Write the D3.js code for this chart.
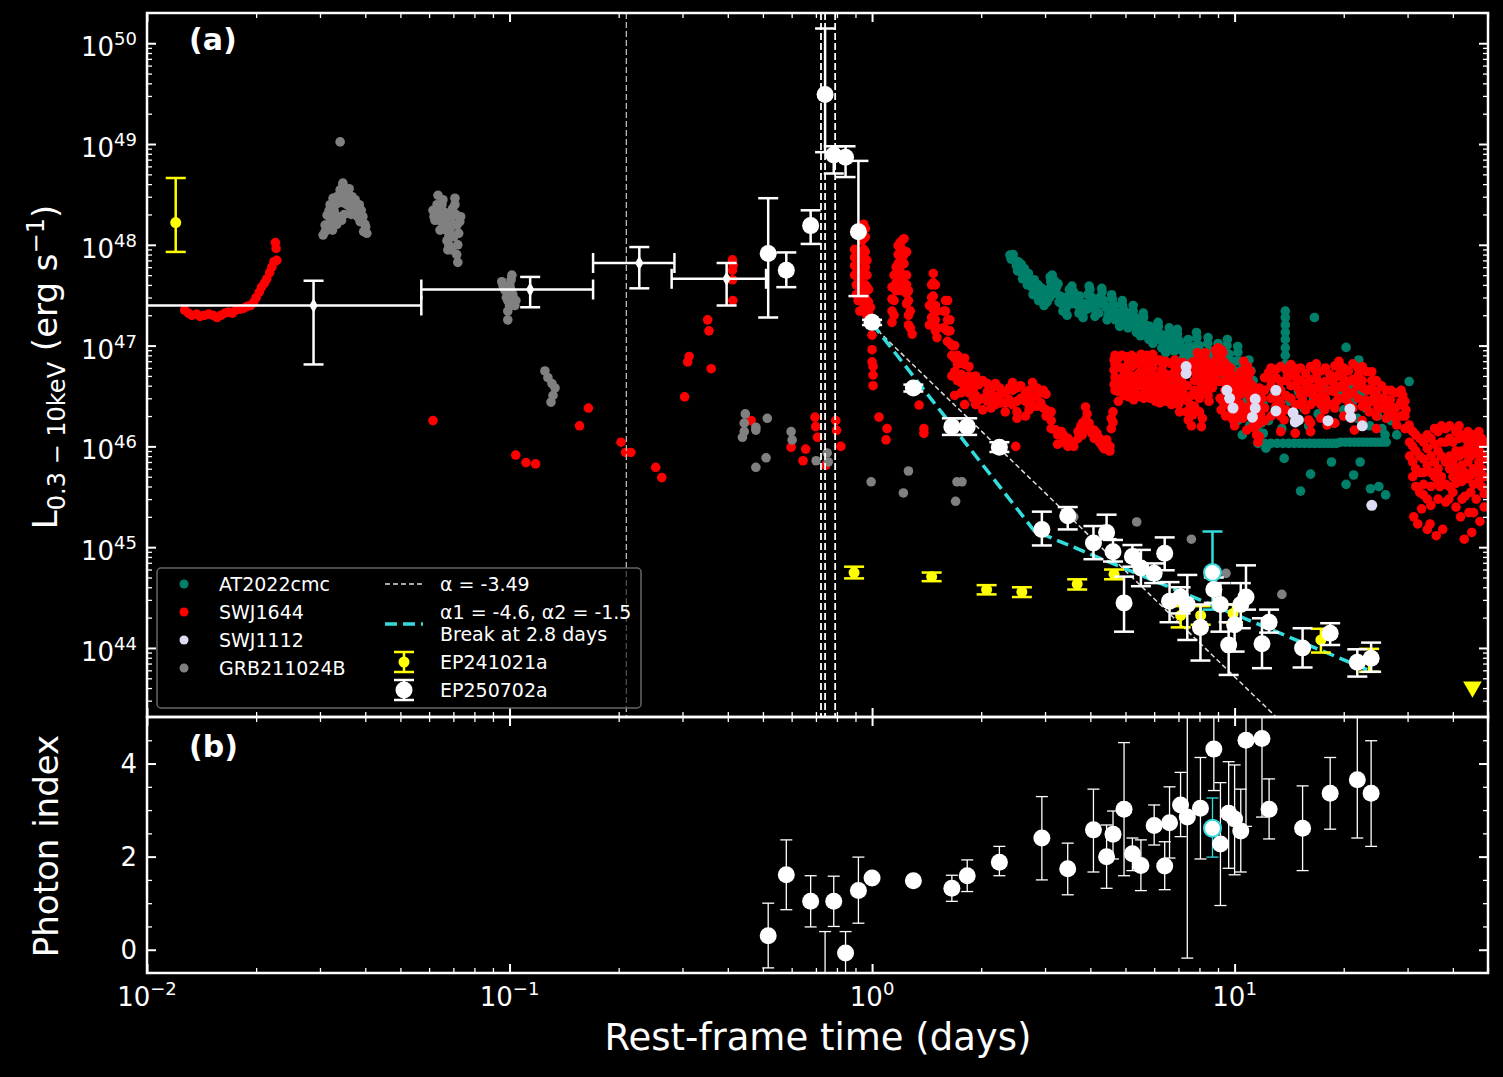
<!DOCTYPE html>
<html>
<head>
<meta charset="utf-8">
<script src="https://cdn.jsdelivr.net/npm/d3@7"></script>
<style>
  body { margin: 0; background: #000; }
  svg text { font-family: "DejaVu Sans", sans-serif; fill: #fff; }
</style>
</head>
<body>
<div id="viz"></div>
<script>
// ---- data: [rest-frame days, L (erg/s)] ----
var at2022cmc = [
  [2.40,7.9e47],[2.42,7.2e47],[2.45,8.0e47],[2.48,7.0e47],[2.50,6.2e47],[2.53,6.8e47],[2.55,5.8e47],[2.58,6.4e47],[2.60,5.2e47],[2.63,5.8e47],
  [2.66,4.7e47],[2.70,5.2e47],[2.73,4.3e47],[2.76,3.8e47],[2.80,4.5e47],[2.83,3.6e47],[2.87,4.0e47],[2.90,3.3e47],[2.94,3.7e47],[2.97,2.9e47],
  [3.00,3.3e47],[3.04,2.7e47],[3.07,3.6e47],[3.11,4.3e47],[3.14,5.0e47],[3.18,4.4e47],[3.22,3.7e47],[3.26,4.1e47],[3.30,3.1e47],[3.34,2.6e47],
  [3.38,3.0e47],[3.42,2.3e47],[3.47,2.7e47],[3.52,3.3e47],[3.56,3.9e47],[3.60,3.4e47],[3.65,2.9e47],[3.70,2.5e47],[3.74,3.1e47],[3.79,2.6e47],
  [3.84,2.2e47],[3.89,2.6e47],[3.94,3.2e47],[3.99,3.6e47],[4.04,3.0e47],[4.09,2.6e47],[4.14,2.2e47],[4.20,2.6e47],[4.25,3.0e47],[4.31,3.4e47],
  [4.36,2.8e47],[4.42,2.4e47],[4.48,2.0e47],[4.54,2.4e47],[4.60,2.9e47],[4.66,2.5e47],[4.72,2.1e47],[4.78,1.8e47],[4.85,2.1e47],[4.91,2.5e47],
  [4.98,2.2e47],[5.04,1.9e47],[5.11,1.65e47],[5.18,1.9e47],[5.25,2.2e47],[5.32,1.9e47],[5.39,1.6e47],[5.46,1.4e47],[5.53,1.65e47],[5.61,1.9e47],
  [5.68,1.6e47],[5.76,1.35e47],[5.84,1.55e47],[5.92,1.3e47],[6.00,1.15e47],[6.08,1.35e47],[6.16,1.55e47],[6.25,1.3e47],[6.33,1.1e47],[6.42,9.5e46],
  [6.50,1.15e47],[6.59,1.35e47],[6.68,1.15e47],[6.77,9.5e46],[6.87,1.1e47],[6.96,1.3e47],[7.06,1.1e47],[7.15,9.0e46],[7.25,7.8e46],[7.35,9.5e46],
  [7.45,1.15e47],[7.55,9.5e46],[7.66,8.0e46],[7.76,9.8e46],[7.87,1.2e47],[7.98,1.0e47],[8.09,8.3e46],[8.20,7.0e46],[8.31,8.5e46],[8.43,1.05e47],
  [8.54,8.8e46],[8.66,7.3e46],[8.78,6.2e46],[8.90,7.6e46],[9.02,9.2e46],[9.15,7.8e46],[9.27,6.5e46],[9.40,8.0e46],[9.53,1.0e47],[9.66,8.2e46],
  [9.80,6.8e46],[9.93,5.7e46],[10.07,7.0e46],[10.21,8.6e46],[10.35,7.0e46],[10.5,5.8e46],[10.65,4.8e46],[10.8,6.0e46],[10.95,7.2e46],[11.1,5.6e46],
  [11.25,4.5e46],[11.4,3.6e46],[11.55,2.8e46],[11.7,2.2e46],[11.85,1.7e46],[12.0,1.35e46],
  [2.52,5.5e47],[2.6,4.6e47],[2.68,4.0e47],[2.78,3.2e47],[2.88,2.8e47],[2.98,2.5e47],[3.09,3.0e47],[3.15,3.8e47],[3.2,3.3e47],[3.28,2.7e47],
  [3.36,2.2e47],[3.45,2.0e47],[3.55,2.6e47],[3.63,2.9e47],[3.72,2.1e47],[3.82,1.9e47],[3.92,2.3e47],[4.02,2.6e47],[4.12,1.95e47],[4.22,2.1e47],
  [4.33,2.6e47],[4.45,1.8e47],[4.57,2.0e47],[4.69,1.8e47],[4.82,1.55e47],[4.95,1.8e47],[5.08,1.5e47],[5.22,1.6e47],[5.36,1.35e47],[5.5,1.25e47],
  [5.64,1.4e47],[5.8,1.15e47],[5.95,1.05e47],[6.12,1.15e47],[6.3,9.5e46],[6.46,8.5e46],[6.64,1.0e47],[6.82,8.8e46],[7.0,9.5e46],[7.2,7.2e46],
  [7.4,8.0e46],[7.6,7.2e46],[7.8,8.2e46],[8.0,7.0e46],[8.25,6.0e46],[8.5,7.2e46],[8.75,5.5e46],[9.0,6.2e46],[9.25,5.4e46],[9.5,6.5e46],
  [9.75,5.2e46],[10.0,4.6e46],[10.3,5.6e46],[10.6,4.0e46],[10.9,4.6e46],[11.2,3.6e46],[11.5,3.0e46],
  [3.1,4.8e47],[3.5,3.6e47],[3.97,3.9e47],[4.3,3.7e47],[4.58,3.2e47],[4.9,2.8e47],[5.25,2.5e47],[5.6,2.1e47],[6.15,1.7e47],[6.6,1.5e47],
  [6.95,1.45e47],[7.85,1.35e47],[8.45,1.2e47],[9.0,1.05e47],[9.55,1.15e47],[10.2,9.8e46],
  [9.6,3.5e46],[9.9,2.5e46],[10.2,1.8e46],[10.5,1.3e46],[10.8,2.8e46],[11.0,1.6e46],[11.3,2.2e46],[11.6,1.4e46],[12.0,2.6e46],[12.4,1.8e46],
  [12.8,3.2e46],[13.2,2.2e46],[13.5,1.5e46],[14.2,2.8e46],[14.6,1.9e46],[15.0,3.5e46],[15.5,2.4e46],[16.0,1.6e46],[16.5,3.0e46],[17.0,2.1e46],
  [17.6,3.8e46],[18.2,2.6e46],[18.8,1.7e46],[19.4,3.2e46],[20.0,2.3e46],[20.6,4.0e46],[21.2,2.8e46],[21.8,1.9e46],[22.4,3.4e46],[23.0,2.4e46],
  [23.6,1.6e46],[24.2,2.9e46],[24.8,2.0e46],[25.5,1.5e46],[26.0,1.3e46],[27.0,1.8e46],[28.0,1.3e46],
  [11.6,1.07e46],[12.1,1.07e46],[12.6,1.07e46],[13.1,1.07e46],[13.6,1.07e46],[14.1,1.07e46],[14.6,1.07e46],[15.1,1.07e46],[15.6,1.07e46],[16.1,1.07e46],
  [16.6,1.07e46],[17.1,1.07e46],[17.6,1.07e46],[18.1,1.07e46],[18.6,1.07e46],[19.1,1.07e46],[19.6,1.1e46],[20.2,1.1e46],[20.8,1.1e46],[21.4,1.1e46],
  [22.0,1.1e46],[22.6,1.1e46],[23.2,1.1e46],[23.8,1.1e46],[24.4,1.1e46],[25.0,1.1e46],[25.6,1.1e46],[26.2,1.1e46],
  [13.8,2.2e47],[13.8,1.9e47],[13.8,1.6e47],[13.8,1.35e47],[13.8,1.15e47],[13.8,9.5e46],[13.8,8.0e46],[13.8,6.5e46],
  [16.6,1.9e47],[20.3,9.6e46],[22.0,7.2e46],[30.3,4.4e46],[5.27,7.6e46],[7.1,3.6e46],
  [12.2,9.6e45],[13.7,7.6e45],[16.2,5.3e45],[18.5,7.0e45],[15.2,3.6e45],[20.3,4.2e45],[21.3,5.2e45],[22.2,7.0e45],[23.7,3.8e45],[25.0,4.0e45],[26.1,3.3e45]
];

var swj1644 = [
  [0.0127,2.25e47],[0.0130,2.1e47],[0.0133,2.0e47],[0.0137,2.05e47],[0.0140,1.95e47],[0.0144,2.0e47],[0.0148,2.05e47],[0.0152,2.0e47],[0.0156,1.9e47],[0.0160,2.0e47],
  [0.0164,2.1e47],[0.0168,2.15e47],[0.0172,2.1e47],[0.0176,2.25e47],[0.0181,2.3e47],[0.0185,2.35e47],[0.0189,2.45e47],[0.0193,2.5e47],[0.0197,2.7e47],[0.0200,3.0e47],
  [0.0204,3.4e47],[0.0207,3.8e47],[0.0211,4.2e47],[0.0214,4.6e47],[0.0218,5.3e47],[0.0221,6.0e47],[0.0224,6.8e47],[0.0228,7.0e47],[0.0227,9.2e47],[0.0226,1.05e48],
  [0.0615,1.8e46],[0.104,8.2e45],[0.111,6.9e45],[0.118,6.7e45],[0.156,1.6e46],[0.165,2.4e46],[0.203,1.1e46],[0.209,8.7e45],[0.216,8.7e45],[0.253,6.2e45],
  [0.263,4.9e45],[0.304,3.1e46],[0.31,6.9e46],[0.313,7.8e46],[0.352,1.8e47],[0.355,1.4e47],[0.36,5.9e46],[0.412,7.1e47],[0.412,5.6e47],[0.412,4.5e47],
  [0.413,2.8e47],[0.414,6.3e47],[0.464,1.8e46],[0.598,9.8e45],[0.645,7.2e45],[0.656,9.4e45],[0.696,1.95e46],[0.699,1.57e46],[0.707,1.23e46],[0.745,6.5e45],
  [0.794,1.8e46],[0.798,1.44e46],[0.82,1.0e46],
  [1.0,1.27e47],[1.0,9.1e46],[1.0,6.9e46],[1.006,5.1e46],[1.006,4.0e46],[1.006,6.2e46],[1.045,1.95e46],[1.10,1.5e46],[1.093,1.16e46],
  [1.348,2.57e46],[1.39,1.5e46],[1.39,1.35e46],[2.49,1.0e46],[4.62,2.2e46],[4.62,1.74e46],[8.1,1.57e46]
];

// denser parts of SWJ1644 read column by column: [t, [L values at that t]]
var swj1644Cols = [
  [0.895,[9.0e47,7.5e47,6.2e47,5.0e47]],[0.905,[8.0e47,6.5e47,5.2e47,4.0e47,3.2e47]],[0.915,[5.5e47,4.2e47,2.8e47]],[0.925,[4.5e47,3.5e47,2.2e47]],
  [0.938,[1.5e48,1.1e48,8.0e47,5.5e47,4.0e47,3.0e47]],[0.948,[1.6e48,1.15e48,9.0e47,7.0e47,5.0e47,3.6e47,2.6e47]],
  [0.958,[1.45e48,1.2e48,8.5e47,6.0e47,4.0e47,3.0e47,2.2e47]],[0.968,[7.0e47,5.0e47,3.8e47,2.8e47,2.0e47]],[0.978,[3.6e47,2.7e47,2.1e47]],
  [0.99,[2.4e47,1.9e47]],
  [1.135,[3.8e47,2.9e47,2.2e47,1.7e47]],[1.15,[5.0e47,2.8e47,2.0e47]],[1.165,[6.0e47,4.2e47,3.5e47]],[1.18,[9.8e47,8.0e47,6.5e47,5.5e47,4.5e47]],
  [1.195,[1.05e48,8.5e47,6.0e47,4.8e47]],[1.21,[1.1e48,9.0e47,7.5e47,4.5e47,3.5e47]],[1.225,[1.15e48,8.0e47,6.5e47,5.0e47,3.8e47]],
  [1.245,[8.5e47,5.0e47,4.0e47,3.3e47,2.6e47]],[1.26,[3.5e47,2.8e47,2.0e47,1.6e47]],[1.275,[2.2e47,1.5e47]],[1.29,[1.3e47]],
  [1.44,[2.5e47,1.6e47]],[1.46,[4.0e47,3.0e47,1.9e47]],[1.475,[5.2e47,4.2e47,3.1e47,2.3e47,1.8e47]],[1.495,[4.0e47,2.5e47,1.8e47,1.4e47]],
  [1.51,[2.2e47,1.5e47,1.2e47]],
  [1.575,[2.2e47,1.5e47]],[1.595,[2.8e47,2.2e47,1.45e47]],[1.615,[2.8e47,1.8e47,1.4e47,1.1e47]],[1.64,[1.8e47,1.4e47,1.05e47]],
  [1.66,[1.0e47,8.0e46,5.0e46]],[1.69,[1.0e47,7.5e46,5.5e46,3.2e46]],[1.72,[8.0e46,6.5e46,4.5e46]],[1.76,[7.5e46,5.2e46,4.3e46,3.4e46]],
  [1.80,[7.5e46,6.5e46,4.6e46,3.8e46,2.6e46]],[1.85,[6.2e46,5.0e46,4.2e46,3.4e46]],[1.90,[4.4e46,3.6e46,3.0e46]],[1.93,[5.0e46,3.2e46,2.6e46]],
  [1.97,[4.1e46,2.9e46]],[2.02,[4.5e46,3.0e46,2.3e46]],[2.08,[4.2e46,3.5e46,2.8e46]],[2.13,[3.6e46,3.0e46,2.4e46]],[2.19,[4.2e46,3.1e46,2.6e46]],
  [2.25,[3.8e46,3.2e46,2.7e46]],[2.33,[3.4e46,2.7e46,2.2e46]],[2.39,[3.8e46,2.9e46]],[2.44,[4.3e46,3.6e46,2.6e46]],[2.51,[3.8e46,2.8e46,2.2e46,1.9e46]],
  [2.57,[4.0e46,3.0e46]],[2.65,[3.4e46,2.8e46,2.0e46]],[2.71,[3.6e46,2.6e46,2.3e46]],[2.77,[4.3e46,3.0e46,2.5e46]],[2.85,[3.8e46,3.2e46,2.5e46]],
  [2.92,[3.4e46,2.7e46]],[2.97,[3.6e46,2.4e46]],[3.02,[3.3e46,2.3e46,2.0e46]],[3.12,[2.2e46,1.8e46,1.5e46]],
  [3.21,[1.46e46]],[3.25,[1.3e46,1.05e46]],[3.33,[1.4e46]],[3.37,[1.3e46,1.1e46]],[3.47,[1.2e46,1.0e46]],[3.54,[1.03e46]],[3.6,[1.1e46,1.0e46]],
  [3.7,[1.2e46,1.4e46]],[3.76,[1.56e46]],[3.8,[1.7e46,1.3e46]],[3.88,[2.46e46,1.83e46]],[3.92,[2.1e46,1.5e46]],[3.97,[1.7e46]],[4.04,[1.35e46]],
  [4.1,[1.45e46,1.2e46]],[4.17,[1.35e46]],[4.24,[1.2e46,1.1e46]],[4.30,[1.03e46]],[4.36,[1.05e46,9.5e45]],[4.44,[1.16e46,9.8e45]],
  [4.49,[9.2e45]],[4.53,[9.0e45,1.0e46]],[4.57,[1.9e46,1.5e46]],
  [4.65,[7.2e46,5.7e46,4.1e46]],[4.68,[8.0e46,6.5e46,4.8e46,3.6e46]],[4.78,[7.5e46,6.2e46,4.4e46,3.5e46,2.8e46]],[4.88,[8.0e46,6.0e46,4.6e46,3.8e46]],
  [4.95,[5.1e46,3.2e46]],[5.0,[7.8e46,5.8e46,4.1e46,3.3e46]],[5.07,[6.4e46,4.5e46]],[5.1,[7.2e46,5.2e46,3.9e46,3.1e46]],
  [5.2,[8.0e46,6.2e46,4.8e46,3.2e46]],[5.27,[3.6e46,2.9e46]],[5.33,[7.0e46,5.0e46,4.0e46,3.4e46]],[5.43,[6.6e46,4.6e46,3.2e46]],
  [5.47,[7.5e46,5.4e46]],[5.52,[8.2e46,5.2e46,4.0e46,3.1e46]],[5.62,[7.0e46,5.4e46,4.3e46,3.0e46]],[5.67,[4.8e46,3.5e46]],
  [5.72,[8.0e46,6.0e46,4.2e46]],[5.81,[4.5e46]],[5.85,[7.5e46,5.6e46,4.0e46,3.0e46]],[5.92,[6.9e46]],[5.95,[8.2e46,6.0e46,4.6e46,3.6e46]],
  [6.05,[7.0e46,5.0e46,3.6e46,2.8e46]],[6.1,[4.0e46]],[6.18,[3.2e46]],[6.22,[7.2e46,5.0e46,4.1e46,2.7e46]],[6.30,[5.7e46]],
  [6.35,[6.5e46,4.0e46,3.4e46]],[6.38,[4.5e46]],[6.45,[7.0e46,5.2e46,4.0e46,2.8e46]],[6.5,[3.6e46]],[6.59,[3.0e46]],[6.66,[5.1e46]],
  [6.7,[6.6e46,4.4e46,3.6e46,2.6e46]],[6.79,[4.0e46]],[6.85,[7.2e46,5.6e46,4.4e46,2.8e46]],[6.9,[3.2e46]],[6.95,[6.0e46,4.8e46,3.6e46]],
  [7.0,[2.6e46]],[7.05,[6.3e46,4.4e46,3.0e46,2.2e46]],[7.1,[3.6e46]],[7.2,[6.8e46,5.0e46,4.2e46,3.4e46]],[7.3,[2.9e46]],
  [7.37,[2.2e46]],[7.4,[5.8e46,4.0e46,3.0e46]],[7.45,[1.83e46]],[7.53,[2.6e46]],[7.6,[3.2e46,2.4e46,1.6e46]],[7.67,[6.9e46,2.05e46]],
  [7.75,[6.4e46,4.5e46,3.6e46,2.5e46]],[7.8,[5.4e46]],[7.9,[8.5e46,6.2e46,4.6e46,3.5e46]],[7.97,[7.5e46]],[8.0,[6.5e46,5.0e46,3.0e46,2.2e46]],
  [8.1,[4.0e46]],[8.15,[8.0e46,6.6e46,4.8e46,3.4e46,1.9e46]],[8.2,[5.7e46]],[8.3,[8.5e46,6.0e46,4.4e46,3.6e46]],[8.35,[7.2e46]],
  [8.45,[3.2e46]],[8.5,[6.5e46,5.2e46,3.8e46,2.8e46]],[8.6,[4.5e46]],[8.68,[6.5e46,4.8e46,3.8e46]],[8.77,[5.4e46]],
  [8.85,[9.0e46,7.0e46,5.8e46,4.6e46]],[8.95,[8.1e46]],[9.0,[9.5e46,7.5e46,5.5e46,4.4e46]],[9.06,[6.4e46]],[9.12,[8.0e46,5.5e46,3.0e46]],
  [9.18,[9.1e46,2.3e46]],[9.28,[8.5e46,5.8e46,4.4e46,2.8e46]],[9.34,[6.9e46]],[9.4,[3.6e46]],[9.45,[5.8e46,4.2e46,2.8e46,2.0e46]],
  [9.52,[6.4e46,4.8e46]],[9.6,[5.5e46,4.0e46,2.6e46]],[9.69,[3.2e46]],[9.75,[6.0e46,4.4e46,2.6e46,2.0e46]],[9.8,[5.1e46,2.3e46]],
  [9.9,[1.83e46]],[9.95,[5.0e46,3.5e46,2.8e46,2.2e46]],[10.0,[4.0e46,1.6e46]],[10.15,[4.5e46,3.6e46,2.4e46,1.9e46]],[10.3,[3.2e46]],
  [10.4,[5.5e46,4.0e46,2.6e46,2.1e46]],[10.5,[4.5e46]],[10.55,[1.9e46]],[10.6,[7.0e46,5.2e46,3.4e46,2.4e46]],[10.7,[6.0e46]],
  [10.8,[1.45e46]],[10.85,[6.2e46,4.0e46,2.2e46]],[10.9,[4.8e46]],[11.0,[3.5e46]],[11.05,[5.5e46,4.2e46,3.0e46,2.0e46]],
  [11.1,[2.6e46]],[11.2,[4.0e46,3.2e46,2.3e46,1.55e46]],[11.3,[1.83e46]],[11.45,[3.4e46,2.4e46,1.6e46]],[11.5,[1.3e46]],[11.6,[1.1e46]],
  [11.7,[3.8e46,2.8e46,1.7e46,1.25e46]],[11.8,[2.05e46]],[11.9,[3.0e46]],[12.1,[4.8e46,3.6e46,2.4e46,1.8e46]],
  [12.4,[5.4e46]],[12.6,[6.0e46,4.5e46,4.0e46,3.0e46,2.0e46]],[12.9,[3.6e46]],
  [13.0,[5.8e46,4.8e46,3.4e46,2.5e46]],[13.2,[2.9e46]],[13.4,[6.2e46,4.4e46,3.6e46,2.7e46,2.0e46,1.4e46]],
  [13.5,[2.3e46]],[13.7,[1.83e46]],[13.85,[5.8e46,4.5e46,3.2e46,2.3e46]],[14.0,[5.1e46]],
  [14.3,[6.5e46,5.0e46,4.0e46,3.0e46]],[14.6,[6.0e46]],[14.7,[5.5e46,4.0e46,2.6e46,1.9e46,1.35e46]],[14.8,[4.8e46]],
  [15.1,[3.6e46]],[15.2,[6.0e46,4.5e46,3.2e46,2.6e46]],[15.4,[2.9e46]],[15.7,[5.3e46,4.2e46,3.4e46,2.3e46]],
  [16.0,[1.83e46]],[16.2,[6.2e46,4.6e46,3.8e46,2.6e46,1.7e46,1.4e46]],[16.5,[3.2e46]],[16.7,[5.7e46]],
  [16.8,[6.6e46,4.8e46,3.8e46,2.8e46]],[17.1,[4.3e46]],[17.3,[5.6e46,3.8e46,2.6e46,1.9e46]],[17.4,[3.2e46]],
  [17.7,[2.3e46]],[17.8,[6.0e46,4.4e46,3.0e46]],[18.0,[1.63e46]],[18.3,[5.2e46,3.6e46,2.6e46]],
  [18.4,[4.5e46]],[18.8,[3.5e46]],[18.9,[6.3e46,4.8e46,4.0e46,2.4e46,1.7e46]],[19.1,[2.8e46]],
  [19.4,[7.0e46,5.2e46,3.9e46,3.0e46]],[19.5,[6.4e46]],[19.9,[4.8e46]],[20.0,[6.0e46,4.2e46,3.0e46,2.0e46]],
  [20.3,[3.6e46]],[20.6,[5.6e46,4.4e46,3.2e46]],[20.7,[2.6e46]],[21.0,[1.9e46]],[21.2,[6.6e46,4.6e46,3.4e46,2.4e46]],
  [21.4,[1.45e46]],[21.8,[4.0e46]],[21.9,[6.0e46,5.0e46,3.0e46]],[22.1,[5.4e46]],[22.5,[6.2e46,4.5e46,2.5e46,1.8e46]],
  [22.6,[3.8e46]],[23.0,[2.9e46]],[23.2,[5.5e46,3.6e46,2.6e46]],[23.5,[2.2e46]],[23.9,[5.5e46,4.5e46,3.8e46,2.8e46]],
  [24.3,[3.2e46]],[24.6,[4.5e46,3.5e46,2.8e46,2.0e46,1.5e46]],[24.8,[2.4e46]],[25.4,[4.0e46,3.0e46,2.4e46]],
  [25.8,[3.0e46]],[26.2,[3.6e46,2.6e46,1.9e46]],[26.3,[2.3e46]],[26.9,[2.9e46]],[27.0,[3.6e46,2.5e46]],[27.4,[2.05e46]],
  [27.8,[3.4e46,2.4e46,1.9e46]],[28.0,[1.63e46]],[28.6,[2.6e46]],[28.8,[3.6e46,2.8e46,2.0e46]],[29.1,[3.2e46]],
  [29.5,[2.8e46,2.0e46,1.5e46]],[29.7,[2.3e46]],[30.3,[1.63e46]],
  [30.4,[1.5e46,1.1e46,8.0e45]],[31.0,[1.4e46,1.0e46,7.0e45,5.0e45]],[31.2,[2.0e45]],[31.6,[1.3e46,9.0e45,6.0e45,4.0e45]],
  [32.0,[1.7e45]],[32.4,[1.2e46,8.0e45,5.5e45,3.5e45]],[32.8,[2.4e45]],[33.2,[1.1e46,7.5e45,5.5e45,4.2e45,3.3e45]],
  [34.0,[1.3e46,9.5e45,6.5e45,3.0e45,1.5e45]],[34.6,[1.7e45]],[34.8,[1.2e46,8.0e45,5.5e45,4.0e45,2.6e45]],
  [35.6,[1.5e46,1.05e46,7.0e45,5.0e45]],[36.0,[1.3e45]],[36.4,[1.4e46,9.0e45,6.0e45,4.5e45,3.0e45]],[36.8,[4.0e45]],
  [37.2,[1.6e46,1.1e46,8.0e45,5.0e45]],[37.5,[1.5e45]],[38.2,[1.5e46,1.1e46,7.0e45,4.2e45,2.8e45]],[39.0,[3.0e45]],
  [39.2,[1.6e46,1.2e46,8.0e45,6.0e45,4.0e45]],[40.0,[1.1e46,7.0e45,5.0e45,3.5e45]],[40.8,[1.4e46,9.0e45,6.0e45,4.3e45,2.5e45]],
  [41.6,[1.6e46,1.2e46,8.0e45,5.2e45]],[42.0,[2.0e45]],[42.4,[1.3e46,9.0e45,6.5e45,4.5e45,3.0e45]],[43.0,[1.2e45]],
  [43.2,[1.2e46,8.5e45,5.5e45,3.2e45]],[44.0,[1.4e46,1.0e46,7.0e45,4.8e45]],[44.3,[2.2e45]],[44.8,[1.1e46,8.0e45,5.2e45,3.5e45]],
  [45.1,[1.4e45]],[45.6,[1.3e46,9.5e45,6.0e45,4.2e45,2.2e45]],[46.4,[1.2e46,8.5e45,5.5e45,3.0e45]],[47.2,[1.4e46,1.0e46,7.0e45,4.6e45]],
  [47.5,[1.8e45]],[48.0,[1.2e46,8.5e45,6.0e45,4.0e45]],[48.8,[1.1e46,7.5e45,5.0e45,3.4e45,2.5e45]]
];

var swj1112 = [
  [7.35,6.2e46],[7.35,5.3e46],[9.52,3.6e46],[9.69,3.0e46],[9.9,2.4e46],[11.4,2.95e46],[11.4,2.4e46],[11.2,1.95e46],[13.0,3.6e46],
  [13.0,2.25e46],[14.5,2.15e46],[14.7,1.75e46],[15.0,1.83e46],[18.1,1.8e46],[20.8,2.35e46],[20.9,1.95e46],[22.5,1.6e46],[23.9,2.6e45]
];

var grb211024b = [
  [0.0306,1.25e48],[0.0310,1.57e48],[0.0314,1.97e48],[0.0320,2.5e48],[0.0326,2.9e48],[0.0330,2.5e48],[0.0334,3.0e48],[0.0341,3.5e48],[0.0347,3.9e48],[0.0352,3.5e48],
  [0.0356,3.2e48],[0.0361,3.6e48],[0.0368,3.0e48],[0.0375,2.8e48],[0.0379,2.5e48],[0.0387,2.1e48],[0.0392,1.85e48],[0.0399,1.6e48],[0.0404,1.3e48],[0.0320,1.7e48],
  [0.0330,2.0e48],[0.0341,2.8e48],[0.0352,2.8e48],[0.0356,2.5e48],[0.0368,2.2e48],[0.0387,1.7e48],[0.0347,4.1e48],[0.0341,1.05e49],[0.0334,1.6e48],[0.0344,1.75e48],
  [0.0350,2.0e48],[0.0310,1.35e48],[0.0396,1.35e48],[0.0362,2.4e48],[0.0372,2.6e48],[0.0383,2.3e48],
  [0.0314,1.5e48],[0.0318,2.2e48],[0.0323,1.9e48],[0.0328,2.2e48],[0.0338,2.6e48],[0.0345,3.1e48],[0.0349,2.6e48],[0.0354,3.0e48],[0.0359,2.8e48],[0.0364,2.9e48],
  [0.0366,2.0e48],[0.0370,2.4e48],[0.0377,2.2e48],[0.0381,1.9e48],[0.0385,2.5e48],[0.0390,2.2e48],[0.0394,1.9e48],[0.0401,1.5e48],[0.0325,1.4e48],[0.0336,1.9e48],
  [0.0615,2.2e48],[0.0623,1.75e48],[0.0631,2.5e48],[0.0643,1.97e48],[0.0655,2.8e48],[0.0663,1.57e48],[0.0672,1.1e48],[0.0685,1.4e48],[0.0693,1.97e48],[0.0707,2.5e48],
  [0.0716,1.57e48],[0.0729,1.7e48],[0.0720,1.0e48],[0.0676,8.9e47],[0.0693,8.9e47],[0.0720,6.7e47],[0.0643,1.4e48],[0.0663,2.1e48],[0.0635,3.1e48],[0.0707,2.9e48],
  [0.0619,1.9e48],[0.0627,2.2e48],[0.0639,2.3e48],[0.0647,1.7e48],[0.0651,2.5e48],[0.0659,1.9e48],[0.0668,1.4e48],[0.0680,1.2e48],[0.0689,1.7e48],[0.0697,2.3e48],
  [0.0711,2.0e48],[0.0724,1.3e48],[0.0733,1.9e48],[0.0680,1.0e48],[0.0702,1.2e48],[0.0715,8.0e47],
  [0.0952,4.3e47],[0.0971,3.55e47],[0.0989,2.8e47],[0.1002,4.0e47],[0.1021,3.2e47],[0.1041,2.8e47],[0.1015,5.0e47],[0.1034,2.5e47],[0.0989,2.2e47],[0.0989,1.8e47],
  [0.0960,3.9e47],[0.0995,3.3e47],[0.1008,3.6e47],[0.1027,2.9e47],[0.1010,4.5e47],[0.0980,3.0e47],[0.1000,2.5e47],
  [0.1252,5.6e46],[0.1276,4.8e46],[0.1309,4.2e46],[0.1335,3.8e46],[0.1318,3.2e46],[0.1301,2.75e46],
  [0.447,2.1e46],[0.444,1.7e46],[0.439,1.23e46],[0.444,1.4e46],[0.478,1.55e46],[0.478,1.45e46],[0.514,1.9e46],[0.51,7.7e45],[0.478,6.2e45],[0.598,1.4e46],
  [0.602,1.16e46],[0.701,7.2e45],[0.752,8.6e45],[0.757,7.0e45],[0.994,4.45e45],[1.26,5.7e45],[1.22,3.45e45],[1.715,4.45e45],[1.77,4.45e45],[1.70,2.85e45],
  [3.6,2.0e45],[5.37,1.78e45],[7.6,1.2e45],[9.47,5.5e44],[13.5,3.4e44]
];

// EP241021a: [t, L, L_low, L_high]
var ep241021a = [
  [0.0120,1.66e48,8.5e47,4.6e48],[0.892,5.6e44,4.9e44,6.4e44],[1.46,5.1e44,4.6e44,5.6e44],[2.07,3.8e44,3.4e44,4.2e44],
  [2.59,3.6e44,3.2e44,4.0e44],[3.68,4.3e44,3.8e44,4.8e44],[4.65,5.4e44,4.8e44,6.0e44],[7.10,2.1e44,1.6e44,2.6e44],
  [8.06,2.1e44,1.7e44,2.6e44],[9.9,2.2e44,1.8e44,2.7e44],[17.3,1.2e44,9.0e43,1.55e44],[23.5,7.6e43,5.8e43,9.8e43]
];
var ep241021aLimit = [[45.3,4.1e43]];

// EP250702a early binned points: [t, L, t_low, t_high, L_low, L_high]
var epEarly = [
  [0.0288,2.5e47,0.0075,0.0571,6.5e46,4.4e47],
  [0.114,3.6e47,0.0571,0.170,2.4e47,4.8e47],
  [0.228,6.6e47,0.170,0.285,3.7e47,9.5e47],
  [0.397,4.6e47,0.280,0.510,2.5e47,6.6e47]
];

// EP250702a main epochs
var epTime    = [0.517,0.58,0.677,0.742,0.784,0.845,0.917,1.0,1.30,1.66,1.83,2.245,2.94,3.465,4.08,4.435,4.62,4.955,5.225,5.515,6.0,6.415,6.615,7.095,7.405,8.05,8.69,8.765,9.14,9.63,10.0,10.4,10.75,11.9,12.45,15.4,18.35,21.8,23.8];
var epLum     = [8.2e47,5.6e47,1.55e48,3.1e49,7.8e48,7.4e48,1.35e48,1.7e47,3.8e46,1.57e46,1.57e46,9.8e45,1.5e45,2.05e45,1.1e45,1.4e45,9.0e44,2.8e44,8.1e44,6.2e44,5.5e44,8.7e44,2.9e44,3.2e44,2.7e44,1.6e44,5.6e44,3.8e44,2.7e44,1.07e44,1.7e44,2.7e44,3.2e44,1.1e44,1.8e44,1.0e44,1.4e44,7.2e43,7.9e43];
var epLumLo   = [1.9e47,3.8e47,1.02e48,8.3e48,5.1e48,4.7e48,3.1e47,1.6e47,3.5e46,1.3e46,1.3e46,8.8e45,1.04e45,1.5e45,7.6e44,1.2e45,7.2e44,1.45e44,6.4e44,4.1e44,4.4e44,5.9e44,1.8e44,2.2e44,1.2e44,7.5e43,2.4e44,2.8e44,1.45e44,5.4e43,9.2e43,1.57e44,2.4e44,6.3e43,1.42e44,6.4e43,1.07e44,5.2e43,5.8e43];
var epLumHi   = [2.9e48,8.4e47,2.2e48,1.4e50,9.5e48,9.5e48,6.8e48,1.8e47,4.1e46,1.9e46,1.9e46,1.1e46,2.25e45,2.5e45,1.62e45,2.1e45,1.18e45,5.1e44,1.05e45,9.4e44,6.9e44,1.25e45,4.5e44,4.0e44,5.3e44,2.7e44,1.43e45,5.0e44,4.4e44,1.8e44,2.7e44,4.4e44,6.6e44,1.97e44,2.4e44,1.57e44,1.76e44,9.7e43,1.13e44];
var epIndex   = [0.30,1.61,1.04,-0.75,1.04,-0.07,1.27,1.54,1.48,1.32,1.59,1.88,2.40,1.74,2.575,2.0,2.48,3.02,2.06,1.81,2.67,1.80,2.73,3.11,2.85,3.04,2.61,4.31,2.27,2.93,2.81,2.55,4.5,4.54,3.02,2.61,3.36,3.65,3.36];
var epIndexLo = [-0.39,0.86,0.49,-1.5,0.5,-0.6,0.57,1.47,1.42,1.04,1.25,1.59,1.50,1.18,1.67,1.32,1.95,1.59,1.70,1.27,2.25,1.29,1.97,2.43,-0.18,1.95,1.99,3.42,0.95,1.75,1.61,1.67,2.65,2.85,2.38,1.70,2.59,2.40,2.22];
var epIndexHi = [1.0,2.36,1.59,0.39,1.58,0.39,1.99,1.61,1.54,1.6,1.93,2.22,3.29,2.29,3.45,2.68,2.98,4.45,2.40,2.36,3.11,2.32,3.50,3.81,5.5,4.13,3.26,5.5,3.59,4.04,3.97,3.45,5.5,5.5,3.67,3.52,4.13,5.5,4.49];
var epHighlight = [26];

// power-law fits
var fitSingle = { t0: 1, L0: 1.6e47, alpha: -3.49, tEnd: 15 };
var fitBroken = { t0: 1, L0: 1.66e47, a1: -4.6, a2: -1.5, tBreak: 2.8, tEnd: 23.8 };

// vertical markers
var grayMarkers = [0.21];
var whiteMarkers = [0.723, 0.742, 0.791];

var legendLeft = ['AT2022cmc', 'SWJ1644', 'SWJ1112', 'GRB211024B'];
var legendLeftColors = ['#00806a', '#ff0000', '#dcdcf5', '#808080'];

// ---- layout ----
var mL = 147, mR = 1488, pT = 13, pM = 717, pB = 973;

var x = d3.scaleLog().domain([0.01, 50]).range([mL, mR]);
var yL = d3.scaleLog().domain([2.065e43, 1.995e50]).range([pM, pT]);
var yP = d3.scaleLinear().domain([-0.5, 5.0]).range([pB, pM]);

var svg = d3.select('#viz').append('svg')
  .attr('width', 1503).attr('height', 1077)
  .style('background', '#000');

var defs = svg.append('defs');
defs.append('clipPath').attr('id', 'clipA').append('rect')
  .attr('x', mL).attr('y', pT).attr('width', mR - mL).attr('height', pM - pT);
defs.append('clipPath').attr('id', 'clipB').append('rect')
  .attr('x', mL).attr('y', pM).attr('width', mR - mL).attr('height', pB - pM);

var gA = svg.append('g').attr('clip-path', 'url(#clipA)');
var gB = svg.append('g').attr('clip-path', 'url(#clipB)');

function dots(g, data, color, r) {
  g.append('g').selectAll('circle').data(data).enter().append('circle')
    .attr('cx', d => x(d[0])).attr('cy', d => yL(d[1]))
    .attr('r', r).attr('fill', color);
}

var swjAll = swj1644.concat(d3.merge(swj1644Cols.map(c => c[1].map(v => [c[0], v]))));

dots(gA, at2022cmc, '#00806a', 4.8);
dots(gA, swjAll, '#ff0000', 4.8);
dots(gA, swj1112, '#dcdcf5', 5.5);
dots(gA, grb211024b, '#808080', 4.8);

// fit lines
var lineL = d3.line().x(d => x(d[0])).y(d => yL(d[1]));
var singlePts = [[fitSingle.t0, fitSingle.L0],
  [fitSingle.tEnd, fitSingle.L0 * Math.pow(fitSingle.tEnd / fitSingle.t0, fitSingle.alpha)]];
gA.append('path').attr('d', lineL(singlePts))
  .attr('fill', 'none').attr('stroke', '#dddddd').attr('stroke-width', 1.5)
  .attr('stroke-dasharray', '5,3');

var Lb = fitBroken.L0 * Math.pow(fitBroken.tBreak / fitBroken.t0, fitBroken.a1);
var brokenPts = [[fitBroken.t0, fitBroken.L0], [fitBroken.tBreak, Lb],
  [fitBroken.tEnd, Lb * Math.pow(fitBroken.tEnd / fitBroken.tBreak, fitBroken.a2)]];
gA.append('path').attr('d', lineL(brokenPts))
  .attr('fill', 'none').attr('stroke', '#33dddd').attr('stroke-width', 3.5)
  .attr('stroke-dasharray', '12,6');

// vertical dashed lines
gA.selectAll('.vg').data(grayMarkers).enter().append('line')
  .attr('x1', d => x(d)).attr('x2', d => x(d)).attr('y1', pT).attr('y2', pM)
  .attr('stroke', '#bbbbbb').attr('stroke-width', 1.3).attr('stroke-dasharray', '6,3');
gA.selectAll('.vw').data(whiteMarkers).enter().append('line')
  .attr('x1', d => x(d)).attr('x2', d => x(d)).attr('y1', pT).attr('y2', pM)
  .attr('stroke', '#ffffff').attr('stroke-width', 1.8).attr('stroke-dasharray', '7,3');

// vertical error bar with caps
function vbar(g, xs, lo, hi, yScale, color, sw, cap) {
  g.append('line').attr('x1', xs).attr('x2', xs).attr('y1', yScale(lo)).attr('y2', yScale(hi))
    .attr('stroke', color).attr('stroke-width', sw);
  [lo, hi].forEach(function (v) {
    g.append('line').attr('x1', xs - cap).attr('x2', xs + cap).attr('y1', yScale(v)).attr('y2', yScale(v))
      .attr('stroke', color).attr('stroke-width', sw);
  });
}

// EP241021a
ep241021a.forEach(function (d) {
  vbar(gA, x(d[0]), d[2], d[3], yL, '#ffff00', 2.5, 10);
});
gA.append('g').selectAll('circle').data(ep241021a).enter().append('circle')
  .attr('cx', d => x(d[0])).attr('cy', d => yL(d[1])).attr('r', 5.5).attr('fill', '#ffff00');
gA.selectAll('.lim').data(ep241021aLimit).enter().append('path')
  .attr('d', d3.symbol().type(d3.symbolTriangle).size(150))
  .attr('transform', d => 'translate(' + x(d[0]) + ',' + yL(d[1]) + ') rotate(180)')
  .attr('fill', '#ffff00');

// EP250702a early bins
epEarly.forEach(function (d) {
  vbar(gA, x(d[0]), d[4], d[5], yL, '#ffffff', 2.5, 10);
  var yy = yL(d[1]);
  gA.append('line').attr('x1', x(d[2])).attr('x2', x(d[3])).attr('y1', yy).attr('y2', yy)
    .attr('stroke', '#fff').attr('stroke-width', 2.5);
  [d[2], d[3]].forEach(function (v) {
    gA.append('line').attr('x1', x(v)).attr('x2', x(v)).attr('y1', yy - 10).attr('y2', yy + 10)
      .attr('stroke', '#fff').attr('stroke-width', 2.5);
  });
});
gA.append('g').selectAll('path').data(epEarly).enter().append('path')
  .attr('d', d3.symbol().type(d3.symbolDiamond).size(60))
  .attr('transform', d => 'translate(' + x(d[0]) + ',' + yL(d[1]) + ')')
  .attr('fill', '#fff');

// EP250702a main points, top and bottom panels
epTime.forEach(function (t, i) {
  var col = epHighlight.indexOf(i) >= 0 ? '#33dddd' : '#ffffff';
  vbar(gA, x(t), epLumLo[i], epLumHi[i], yL, col, 2.5, 10);
  vbar(gB, x(t), epIndexLo[i], epIndexHi[i], yP, col, 1.3, 6);
});
epTime.forEach(function (t, i) {
  var hl = epHighlight.indexOf(i) >= 0;
  gA.append('circle').attr('cx', x(t)).attr('cy', yL(epLum[i])).attr('r', 8.5)
    .attr('fill', '#fff').attr('stroke', hl ? '#33dddd' : 'none').attr('stroke-width', 2);
  gB.append('circle').attr('cx', x(t)).attr('cy', yP(epIndex[i])).attr('r', 8.5)
    .attr('fill', '#fff').attr('stroke', hl ? '#33dddd' : 'none').attr('stroke-width', 2);
});

// ---- ticks ----
var xMajor = [0.01, 0.1, 1, 10];
var xMinor = [];
xMajor.forEach(function (b) { for (var k = 2; k <= 9; k++) if (b * k <= 50) xMinor.push(b * k); });
var yMajorL = [1e44, 1e45, 1e46, 1e47, 1e48, 1e49, 1e50];
var yMinorL = [];
[1e43, 1e44, 1e45, 1e46, 1e47, 1e48, 1e49, 1e50].forEach(function (b) {
  for (var k = 2; k <= 9; k++) { var v = b * k; if (v >= 2.065e43 && v <= 1.995e50) yMinorL.push(v); }
});
var yMajorP = [0, 2, 4];
var yMinorP = [0.5, 1, 1.5, 2.5, 3, 3.5, 4.5];

function ticks(axisFn, scale, values, size, width, tx, ty) {
  var g = svg.append('g').attr('transform', 'translate(' + tx + ',' + ty + ')')
    .style('color', '#fff')
    .call(axisFn(scale).tickValues(values).tickSize(-size).tickFormat(''));
  g.select('.domain').remove();
  g.selectAll('line').attr('stroke-width', width);
}

[[d3.axisTop, pT], [d3.axisBottom, pM], [d3.axisTop, pM], [d3.axisBottom, pB]].forEach(function (a) {
  ticks(a[0], x, xMajor, 9, 2, 0, a[1]);
  ticks(a[0], x, xMinor, 5, 1.3, 0, a[1]);
});
ticks(d3.axisLeft, yL, yMajorL, 9, 2, mL, 0);
ticks(d3.axisLeft, yL, yMinorL, 5, 1.3, mL, 0);
ticks(d3.axisRight, yL, yMajorL, 9, 2, mR, 0);
ticks(d3.axisRight, yL, yMinorL, 5, 1.3, mR, 0);
ticks(d3.axisLeft, yP, yMajorP, 9, 2, mL, 0);
ticks(d3.axisLeft, yP, yMinorP, 5, 1.3, mL, 0);
ticks(d3.axisRight, yP, yMajorP, 9, 2, mR, 0);
ticks(d3.axisRight, yP, yMinorP, 5, 1.3, mR, 0);

// frames
svg.append('rect').attr('x', mL).attr('y', pT).attr('width', mR - mL).attr('height', pM - pT)
  .attr('fill', 'none').attr('stroke', '#fff').attr('stroke-width', 2.5);
svg.append('rect').attr('x', mL).attr('y', pM).attr('width', mR - mL).attr('height', pB - pM)
  .attr('fill', 'none').attr('stroke', '#fff').attr('stroke-width', 2.5);

// ---- tick labels ----
function powLabel(xp, yp, exp, anchor) {
  var t = svg.append('text').attr('x', xp).attr('y', yp).attr('text-anchor', anchor)
    .style('font-size', '26px');
  t.append('tspan').text('10');
  t.append('tspan').attr('dy', -11).style('font-size', '18px').text(exp);
}
xMajor.forEach(function (v) {
  var e = Math.round(Math.log10(v));
  powLabel(x(v), 1006, (e < 0 ? '\u2212' + (-e) : String(e)), 'middle');
});
yMajorL.forEach(function (v) {
  powLabel(137, yL(v) + 13, String(Math.round(Math.log10(v))), 'end');
});
yMajorP.forEach(function (v) {
  svg.append('text').attr('x', 137).attr('y', yP(v) + 9.5).attr('text-anchor', 'end')
    .style('font-size', '26px').text(v);
});

// ---- axis titles ----
var yt = svg.append('text').attr('transform', 'translate(57,367) rotate(-90)')
  .attr('text-anchor', 'middle').style('font-size', '34px');
yt.append('tspan').text('L');
yt.append('tspan').attr('dy', 8).style('font-size', '24px').text('0.3 \u2212 10keV');
yt.append('tspan').attr('dy', -8).text(' (erg s');
yt.append('tspan').attr('dy', -13).style('font-size', '24px').text('\u22121');
yt.append('tspan').attr('dy', 13).text(')');

svg.append('text').attr('transform', 'translate(58,846) rotate(-90)')
  .attr('text-anchor', 'middle').style('font-size', '34px').text('Photon index');

svg.append('text').attr('x', 818).attr('y', 1050).attr('text-anchor', 'middle')
  .style('font-size', '37px').text('Rest-frame time (days)');

svg.append('text').attr('x', 189).attr('y', 50).style('font-size', '30px')
  .style('font-weight', 'bold').text('(a)');
svg.append('text').attr('x', 189).attr('y', 757).style('font-size', '30px')
  .style('font-weight', 'bold').text('(b)');

// ---- legend ----
var lg = svg.append('g');
lg.append('rect').attr('x', 157).attr('y', 568).attr('width', 484).attr('height', 140)
  .attr('rx', 4).attr('fill', '#000').attr('fill-opacity', 0.6)
  .attr('stroke', '#666').attr('stroke-width', 1.5);
legendLeft.forEach(function (name, i) {
  var yy = 584 + i * 28;
  lg.append('circle').attr('cx', 184).attr('cy', yy).attr('r', 4.5).attr('fill', legendLeftColors[i]);
  lg.append('text').attr('x', 219).attr('y', yy + 7).style('font-size', '19px').text(name);
});
lg.append('line').attr('x1', 385).attr('x2', 423).attr('y1', 584).attr('y2', 584)
  .attr('stroke', '#dddddd').attr('stroke-width', 1.5).attr('stroke-dasharray', '5,3');
lg.append('text').attr('x', 440).attr('y', 591).style('font-size', '19px').text('\u03b1 = -3.49');
lg.append('line').attr('x1', 385).attr('x2', 423).attr('y1', 624).attr('y2', 624)
  .attr('stroke', '#33dddd').attr('stroke-width', 3.5).attr('stroke-dasharray', '12,6');
lg.append('text').attr('x', 440).attr('y', 619).style('font-size', '19px').text('\u03b11 = -4.6, \u03b12 = -1.5');
lg.append('text').attr('x', 440).attr('y', 641).style('font-size', '19px').text('Break at 2.8 days');
[['EP241021a', '#ffff00', 5.5, 662], ['EP250702a', '#ffffff', 8.5, 690]].forEach(function (e) {
  var cx = 404, cy = e[3];
  lg.append('line').attr('x1', cx).attr('x2', cx).attr('y1', cy - 10).attr('y2', cy + 10)
    .attr('stroke', e[1]).attr('stroke-width', 2.5);
  [cy - 10, cy + 10].forEach(function (v) {
    lg.append('line').attr('x1', cx - 10).attr('x2', cx + 10).attr('y1', v).attr('y2', v)
      .attr('stroke', e[1]).attr('stroke-width', 2.5);
  });
  lg.append('circle').attr('cx', cx).attr('cy', cy).attr('r', e[2]).attr('fill', e[1]);
  lg.append('text').attr('x', 440).attr('y', cy + 7).style('font-size', '19px').text(e[0]);
});
</script>
</body>
</html>
